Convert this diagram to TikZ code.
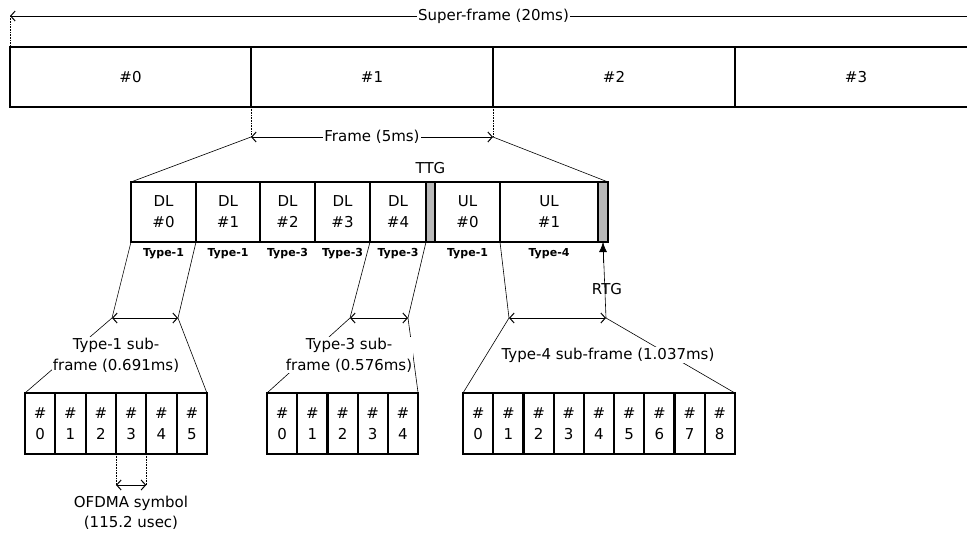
\documentclass[tikz,border=0pt]{standalone}
\usepackage{fontspec}
\setmainfont{DejaVu Sans}
\usetikzlibrary{arrows.meta, positioning, calc}
\tikzset{
    framediagram/.style={x=1pt, y=-1pt, font=\fontsize{15}{21}\selectfont, >={Straight Barb[length=4.5pt, width=10pt]}},
    cell/.style={draw, line width=2pt, anchor=north west, outer sep=0pt, inner sep=0pt, align=center, minimum height=60pt},
    gapcell/.style={cell, fill=gray!55},
    subcell/.style={cell, minimum width=30.3pt, minimum height=61pt},
    typelbl/.style={font=\fontsize{11}{13}\selectfont\bfseries},
    guide/.style={densely dotted, line width=0.6pt},
    proj/.style={line width=0.6pt},
    dim/.style={<->, line width=1pt},
    dimtext/.style={fill=white, inner sep=1pt, align=center},
}
\begin{document}
\begin{tikzpicture}[framediagram]
    \path[use as bounding box, clip] (0,0) rectangle (967,533);

    % super-frame
    \node[cell, minimum width=241pt]                 (sf0) at (10,47) {\#0};
    \node[cell, minimum width=242pt, right=0pt of sf0] (sf1) {\#1};
    \node[cell, minimum width=242pt, right=0pt of sf1] (sf2) {\#2};
    \node[cell, minimum width=242pt, right=0pt of sf2] (sf3) {\#3};

    \coordinate (sfL) at ($(sf0.north west)+(0,-31)$);
    \coordinate (sfR) at ($(sf3.north east)+(0,-31)$);
    \draw[guide] (sf0.north west) -- (sfL);
    \draw[dim] (sfL) -- (sfR);
    \node[dimtext] (sftxt) at ($(sfL)!0.5!(sfR)$) {Super-frame (20ms)};

    % one frame
    \node[cell, minimum width=65pt]                      (dl0) at (131,182) {DL\\\#0};
    \node[cell, minimum width=64pt, right=0pt of dl0]    (dl1) {DL\\\#1};
    \node[cell, minimum width=55pt, right=0pt of dl1]    (dl2) {DL\\\#2};
    \node[cell, minimum width=55pt, right=0pt of dl2]    (dl3) {DL\\\#3};
    \node[cell, minimum width=56pt, right=0pt of dl3]    (dl4) {DL\\\#4};
    \node[gapcell, minimum width=9pt, right=0pt of dl4]  (ttg) {};
    \node[cell, minimum width=65pt, right=0pt of ttg]    (ul0) {UL\\\#0};
    \node[cell, minimum width=98pt, right=0pt of ul0]    (ul1) {UL\\\#1};
    \node[gapcell, minimum width=10pt, right=0pt of ul1] (rtg) {};

    \coordinate (fL) at ($(sf1.south west)+(0,30)$);
    \coordinate (fR) at ($(sf2.south west)+(0,30)$);
    \draw[guide] (sf1.south west) -- (fL);
    \draw[guide] (sf2.south west) -- (fR);
    \draw[dim] (fL) -- (fR);
    \node[dimtext] (ftxt) at ($(fL)!0.5!(fR)$) {Frame (5ms)};
    \draw[proj] (fL) -- (dl0.north west);
    \draw[proj] (fR) -- (rtg.north east);

    \foreach \c/\t in {dl0/1, dl1/1, dl2/3, dl3/3, dl4/3, ul0/1, ul1/4}
        \node[typelbl, below=3pt of \c] (ty\c) {Type-\t};

    \node[above=5pt of ttg] (ttglbl) {TTG};
    \coordinate (rtgtail) at ($(rtg.south)+(0,21)$);
    \draw[-{Latex[length=10pt, width=8pt]}, line width=0.8pt] (rtgtail) -- (rtg.south);
    \node (rtglbl) at (607,289) {RTG};

    % sub-frames
    \foreach \i in {0,...,5}
        \node[subcell] (ta\i) at ({25+30.33*\i},393) {\#\\\i};
    \foreach \i in {0,...,4}
        \node[subcell] (tb\i) at ({267+30.2*\i},393) {\#\\\i};
    \foreach \i in {0,...,8}
        \node[subcell] (tc\i) at ({463+30.2*\i},393) {\#\\\i};

    % type-1
    \coordinate (t1L) at (112,318);
    \coordinate (t1R) at (178,318);
    \draw[proj] (dl0.south west) -- (t1L) -- (ta0.north west);
    \draw[proj] (dl0.south east) -- (t1R) -- (ta5.north east);
    \draw[dim] (t1L) -- (t1R);
    \node[dimtext] (t1txt) at (116,355) {Type-1 sub-\\frame (0.691ms)};

    % type-3
    \coordinate (t3L) at (350,318);
    \coordinate (t3R) at (408,318);
    \draw[proj] (dl4.south west) -- (t3L) -- (tb0.north west);
    \draw[proj] (dl4.south east) -- (t3R) -- (tb4.north east);
    \draw[dim] (t3L) -- (t3R);
    \node[dimtext] (t3txt) at (349,355) {Type-3 sub-\\frame (0.576ms)};

    % type-4
    \coordinate (t4L) at (509,318);
    \coordinate (t4R) at (606,318);
    \draw[proj] (ul1.south west) -- (t4L);
    \draw[proj] (rtg.south) -- (t4R) -- (tc8.north east);
    \draw[dim] (t4L) -- (t4R);
    \node[dimtext] (t4txt) at (608,355) {Type-4 sub-frame (1.037ms)};
    \draw[proj] (t4L) -- (tc0.north west);

    % OFDMA symbol
    \coordinate (ofL) at ($(ta3.south west)+(0,31)$);
    \coordinate (ofR) at ($(ta3.south east)+(0,31)$);
    \draw[guide] (ta3.south west) -- (ofL);
    \draw[guide] (ta3.south east) -- (ofR);
    \draw[dim] (ofL) -- (ofR);
    \node[align=center, font=\fontsize{15}{20}\selectfont] (oftxt) at (131,513) {OFDMA symbol\\(115.2 usec)};
\end{tikzpicture}
\end{document}
